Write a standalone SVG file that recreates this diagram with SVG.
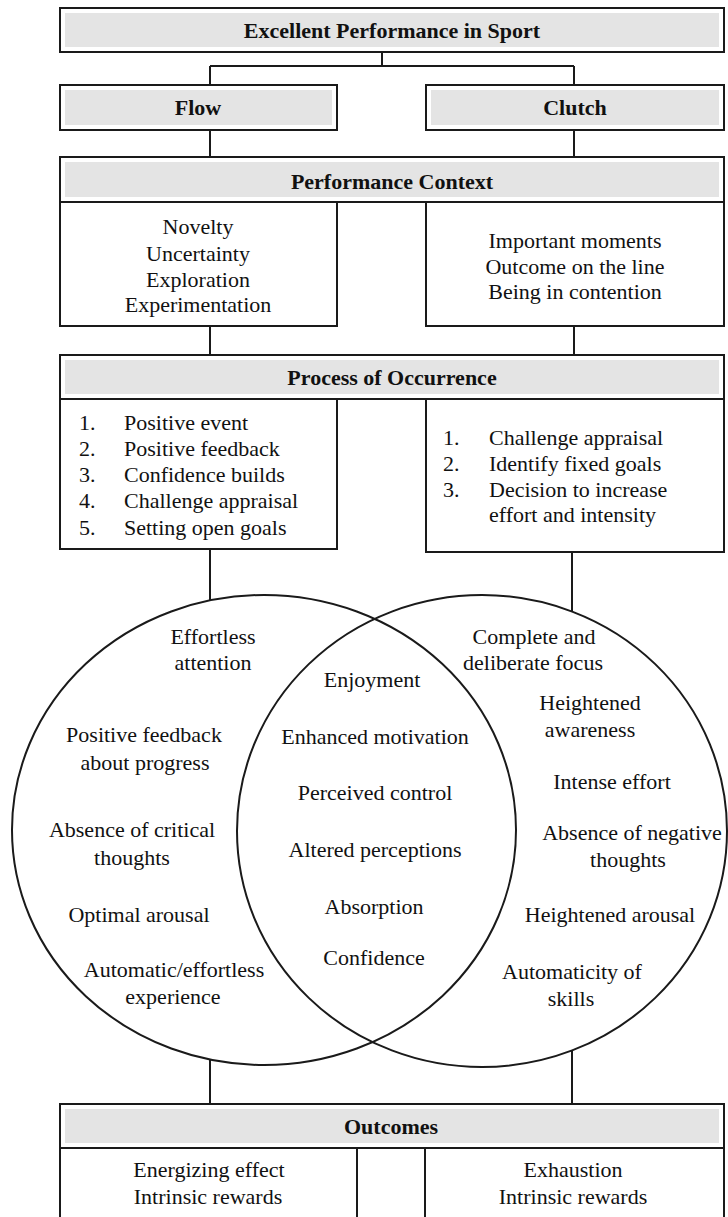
<svg xmlns="http://www.w3.org/2000/svg" width="728" height="1217" viewBox="0 0 728 1217">
<style>
.box{fill:#fff;stroke:#1a1a1a;stroke-width:2}
.band{fill:#e4e4e4;stroke:none}
.hd{font-family:"Liberation Serif",serif;font-weight:bold;font-size:22px;text-anchor:middle;fill:#111}
.tx{font-family:"Liberation Serif",serif;font-size:22px;text-anchor:middle;fill:#111}
.tl{font-family:"Liberation Serif",serif;font-size:22px;fill:#111}
.ln{stroke:#1a1a1a;stroke-width:2;fill:none}
</style>
<rect width="728" height="1217" fill="#fff"/>
<g id="connectors">
<path class="ln" d="M382 52V66M210 66H574M210 66V85M574 66V85"/>
<path class="ln" d="M210 130V157M574 130V157"/>
<path class="ln" d="M210 326V355M574 326V355"/>
<path class="ln" d="M210 549V600M572 552V611"/>
<path class="ln" d="M210 1060V1104M572 1051V1104"/>
</g>
<g id="top">
<rect class="box" x="60" y="8" width="664" height="44"/>
<rect class="band" x="65" y="13" width="654" height="34"/>
<text class="hd" x="392" y="38">Excellent Performance in Sport</text>
</g>
<g id="flow">
<rect class="box" x="60" y="85" width="277" height="45"/>
<rect class="band" x="65" y="90" width="267" height="35"/>
<text class="hd" x="198" y="115">Flow</text>
</g>
<g id="clutch">
<rect class="box" x="426" y="85" width="298" height="45"/>
<rect class="band" x="431" y="90" width="288" height="35"/>
<text class="hd" x="575" y="115">Clutch</text>
</g>
<g id="performance-context">
<rect class="box" x="60" y="157" width="664" height="45"/>
<rect class="band" x="65" y="162" width="654" height="35"/>
<text class="hd" x="392" y="189">Performance Context</text>
</g>
<g id="context-flow">
<rect class="box" x="60" y="202" width="277" height="124"/>
<text class="tx" x="198" y="234">Novelty</text>
<text class="tx" x="198" y="261">Uncertainty</text>
<text class="tx" x="198" y="287">Exploration</text>
<text class="tx" x="198" y="312">Experimentation</text>
</g>
<g id="context-clutch">
<rect class="box" x="426" y="202" width="298" height="124"/>
<text class="tx" x="575" y="248">Important moments</text>
<text class="tx" x="575" y="274">Outcome on the line</text>
<text class="tx" x="575" y="299">Being in contention</text>
</g>
<g id="process">
<rect class="box" x="60" y="355" width="664" height="44"/>
<rect class="band" x="65" y="360" width="654" height="34"/>
<text class="hd" x="392" y="385">Process of Occurrence</text>
</g>
<g id="process-flow">
<rect class="box" x="60" y="399" width="277" height="150"/>
<text class="tl" x="79" y="430">1.</text><text class="tl" x="124" y="430">Positive event</text>
<text class="tl" x="79" y="456">2.</text><text class="tl" x="124" y="456">Positive feedback</text>
<text class="tl" x="79" y="482">3.</text><text class="tl" x="124" y="482">Confidence builds</text>
<text class="tl" x="79" y="508">4.</text><text class="tl" x="124" y="508">Challenge appraisal</text>
<text class="tl" x="79" y="535">5.</text><text class="tl" x="124" y="535">Setting open goals</text>
</g>
<g id="process-clutch">
<rect class="box" x="426" y="399" width="298" height="153"/>
<text class="tl" x="443" y="445">1.</text><text class="tl" x="489" y="445">Challenge appraisal</text>
<text class="tl" x="443" y="471">2.</text><text class="tl" x="489" y="471">Identify fixed goals</text>
<text class="tl" x="443" y="497">3.</text><text class="tl" x="489" y="497">Decision to increase</text>
<text class="tl" x="489" y="522">effort and intensity</text>
</g>
<g id="venn-flow">
<ellipse class="ln" cx="264" cy="830" rx="252" ry="235"/>
<text class="tx" x="213" y="644">Effortless</text>
<text class="tx" x="213" y="670">attention</text>
<text class="tx" x="144" y="742">Positive feedback</text>
<text class="tx" x="145" y="770">about progress</text>
<text class="tx" x="132" y="837">Absence of critical</text>
<text class="tx" x="132" y="865">thoughts</text>
<text class="tx" x="139" y="922">Optimal arousal</text>
<text class="tx" x="174" y="977">Automatic/effortless</text>
<text class="tx" x="173" y="1004">experience</text>
</g>
<g id="venn-clutch">
<ellipse class="ln" cx="482" cy="831" rx="245" ry="236"/>
<text class="tx" x="534" y="644">Complete and</text>
<text class="tx" x="533" y="670">deliberate focus</text>
<text class="tx" x="590" y="710">Heightened</text>
<text class="tx" x="590" y="737">awareness</text>
<text class="tx" x="612" y="789">Intense effort</text>
<text class="tx" x="632" y="840">Absence of negative</text>
<text class="tx" x="628" y="867">thoughts</text>
<text class="tx" x="610" y="922">Heightened arousal</text>
<text class="tx" x="572" y="979">Automaticity of</text>
<text class="tx" x="571" y="1006">skills</text>
</g>
<g id="venn-shared">
<text class="tx" x="372" y="687">Enjoyment</text>
<text class="tx" x="375" y="744">Enhanced motivation</text>
<text class="tx" x="375" y="800">Perceived control</text>
<text class="tx" x="375" y="857">Altered perceptions</text>
<text class="tx" x="374" y="914">Absorption</text>
<text class="tx" x="374" y="965">Confidence</text>
</g>
<g id="outcomes">
<rect class="box" x="60" y="1104" width="664" height="44"/>
<rect class="band" x="65" y="1109" width="654" height="34"/>
<text class="hd" x="391" y="1134">Outcomes</text>
</g>
<g id="outcomes-flow">
<rect class="box" x="60" y="1148" width="297" height="90"/>
<text class="tx" x="209" y="1177">Energizing effect</text>
<text class="tx" x="208" y="1204">Intrinsic rewards</text>
</g>
<g id="outcomes-clutch">
<rect class="box" x="425" y="1148" width="299" height="90"/>
<text class="tx" x="573" y="1177">Exhaustion</text>
<text class="tx" x="573" y="1204">Intrinsic rewards</text>
</g>
</svg>
